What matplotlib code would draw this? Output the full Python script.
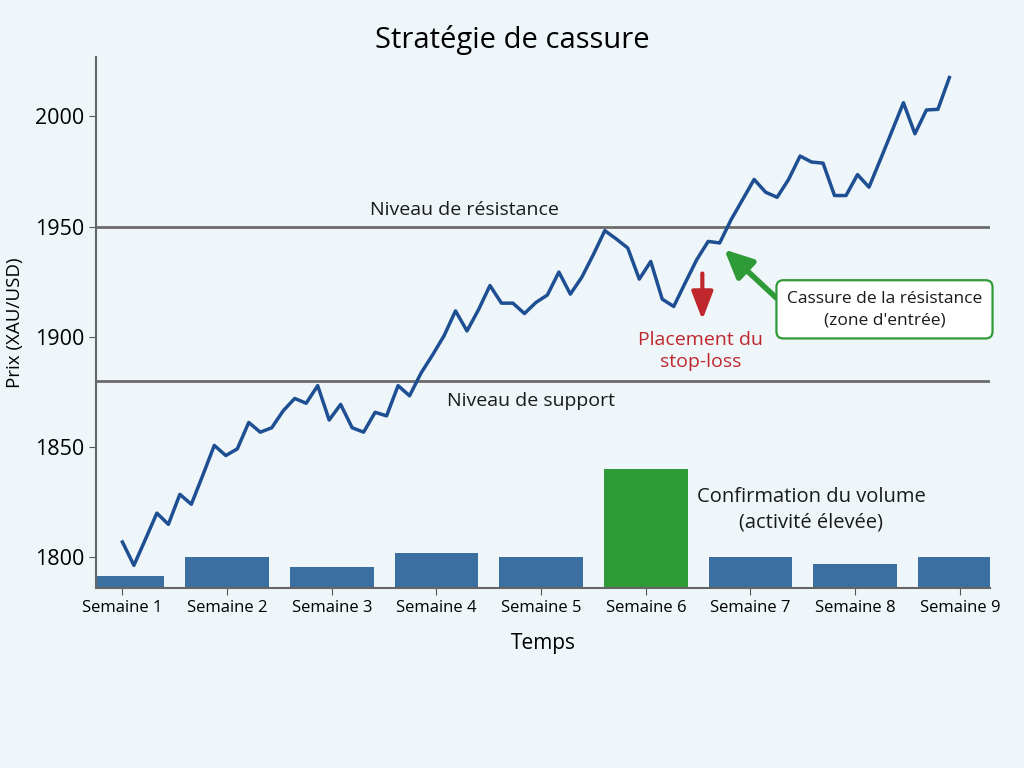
import numpy as np
import matplotlib
matplotlib.use("Agg")
import matplotlib.pyplot as plt

plt.rcParams['font.family'] = ['Open Sans', 'DejaVu Sans']

# ---------------- data ----------------
weeks = ["Semaine 1", "Semaine 2", "Semaine 3", "Semaine 4", "Semaine 5",
         "Semaine 6", "Semaine 7", "Semaine 8", "Semaine 9"]
volume_top = [1791.4, 1800.0, 1795.5, 1801.8, 1800.0, 1840.0, 1800.0, 1796.8, 1800.0]
volume_base = 1786
high_volume_week = 5

prices = [1807.0, 1796.4, 1808.2, 1820.1, 1815.0, 1828.6, 1824.1, 1837.3, 1850.8,
          1846.2, 1849.2, 1861.2, 1856.8, 1858.8, 1866.5, 1872.1, 1869.9, 1877.9,
          1862.3, 1869.4, 1858.8, 1856.8, 1865.8, 1864.2, 1877.9, 1873.3, 1883.6,
          1891.8, 1900.5, 1911.8, 1902.7, 1912.3, 1923.3, 1915.3, 1915.3, 1910.6,
          1915.6, 1919.0, 1929.4, 1919.4, 1927.1, 1937.3, 1948.2, 1944.4, 1940.3,
          1926.2, 1934.2, 1917.1, 1913.8, 1924.5, 1935.0, 1943.3, 1942.6, 1953.2,
          1962.3, 1971.4, 1965.6, 1963.3, 1971.4, 1982.0, 1979.3, 1978.8, 1964.1,
          1964.1, 1973.6, 1967.9, 1980.5, 1993.3, 2006.2, 1992.1, 2002.9, 2003.2,
          2017.6]
resistance = 1950
support = 1880

# ---------------- figure ----------------
bg = "#eef6f9"
fig = plt.figure(figsize=(10.24, 7.68), dpi=100, facecolor=bg)
ax = fig.add_axes([0.094, 0.234, 0.873, 0.692], facecolor=bg)

x_week = np.arange(len(weeks))
bar_colors = ["#2f9a38" if i == high_volume_week else "#3b6fa0" for i in range(len(weeks))]
ax.bar(x_week, np.array(volume_top) - volume_base, bottom=volume_base, width=0.8,
       color=bar_colors, zorder=2)

x_price = np.linspace(0, 7.9, len(prices))
ax.plot(x_price, prices, color="#1f4f93", lw=2.5, zorder=3)

ax.axhline(resistance, color="#6b6b6b", lw=2, zorder=1)
ax.axhline(support, color="#6b6b6b", lw=2, zorder=1)

ax.text(3.27, 1957.5, "Niveau de résistance", ha="center", va="center", fontsize=14, color="#1a1a1a")
ax.text(3.9, 1871, "Niveau de support", ha="center", va="center", fontsize=14, color="#1a1a1a")

# stop-loss arrow
ax.annotate("", xy=(5.54, 1906.5), xytext=(5.54, 1930),
            arrowprops=dict(arrowstyle="-|>,head_width=0.65,head_length=1.7",
                            color="#c0272d", lw=3))
ax.text(5.52, 1893.5, "Placement du\nstop-loss", ha="center", va="center",
        fontsize=14, color="#c0272d", linespacing=1.3)

# breakout annotation
ax.annotate("", xy=(5.73, 1940.5), xytext=(6.33, 1914),
            arrowprops=dict(arrowstyle="-|>,head_width=0.8,head_length=1.7",
                            color="#2f9a38", lw=4))
ax.text(7.28, 1912.5, "Cassure de la résistance\n(zone d'entrée)", ha="center", va="center",
        fontsize=12.5, color="#1a1a1a", linespacing=1.45,
        bbox=dict(boxstyle="round,pad=0.6,rounding_size=0.4", facecolor="white",
                  edgecolor="#2f9a38", lw=1.6))

ax.text(6.58, 1821.5, "Confirmation du volume\n(activité élevée)", ha="center", va="center",
        fontsize=14.5, color="#1a1a1a", linespacing=1.35)

ax.set_xlim(-0.25, 8.29)
ax.set_ylim(1786, 2027)
ax.set_xticks(x_week)
ax.set_xticklabels(weeks, fontsize=12)
ax.set_yticks([1800, 1850, 1900, 1950, 2000])
ax.tick_params(axis="y", labelsize=15.5, color="#555555", length=5)
ax.tick_params(axis="x", color="#555555", length=5)
for s in ["top", "right"]:
    ax.spines[s].set_visible(False)
for s in ["left", "bottom"]:
    ax.spines[s].set_color("#666666")
    ax.spines[s].set_linewidth(1.5)

ax.set_xlabel("Temps", fontsize=15, labelpad=12)
ax.set_ylabel("Prix (XAU/USD)", fontsize=13.5, labelpad=8)
fig.suptitle("Stratégie de cassure", fontsize=21, y=0.968)

fig.savefig("out.png", dpi=100, facecolor=bg)
